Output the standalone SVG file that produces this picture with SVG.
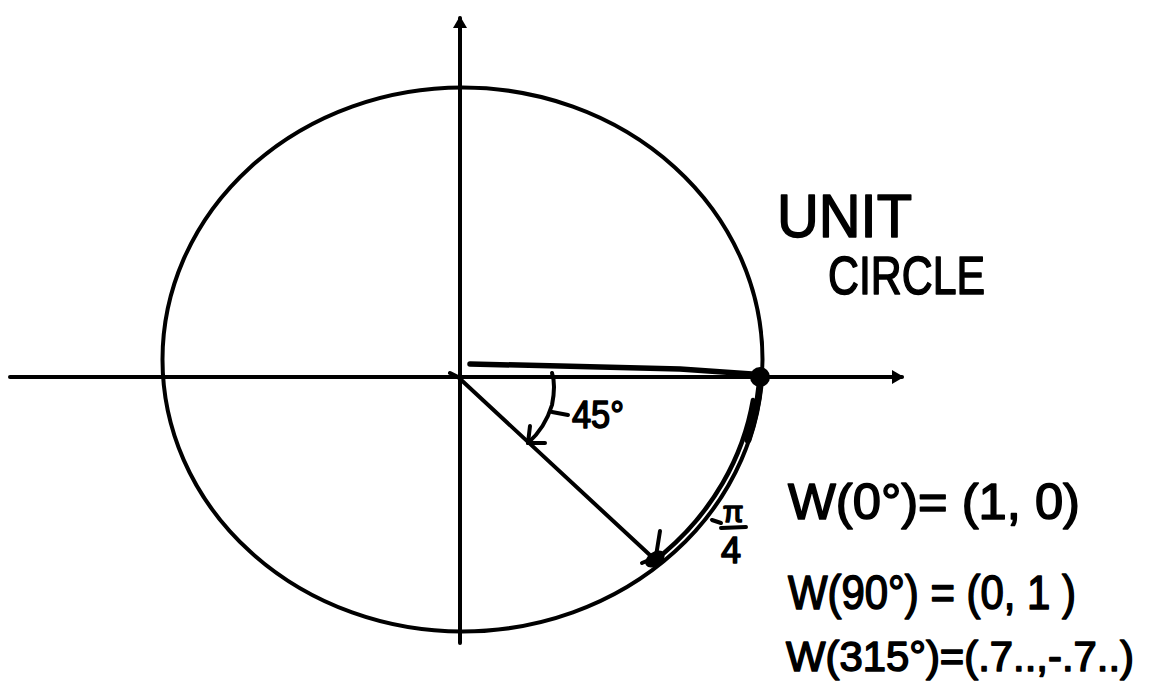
<svg xmlns="http://www.w3.org/2000/svg" width="1155" height="700" viewBox="0 0 1155 700">
  <style>
    .ln { fill: none; stroke: #000; stroke-linecap: round; stroke-linejoin: round; }
    .hw { font-family: "Liberation Sans", "DejaVu Sans", sans-serif; fill: #000; stroke: #000; stroke-width: 1.6; stroke-linejoin: round; }
  </style>
  <defs>
    <marker id="axhead" viewBox="0 0 12 14" refX="10" refY="7" markerWidth="12" markerHeight="14" markerUnits="userSpaceOnUse" orient="auto">
      <path d="M0,0 L12,7 L0,14 Z" fill="#000"/>
    </marker>
  </defs>
  <rect width="1155" height="700" fill="#fff"/>

  <g id="connectors">
    <!-- axes -->
    <line class="ln" x1="10" y1="377" x2="902" y2="377" stroke-width="4" stroke-linecap="butt" marker-end="url(#axhead)"/>
    <line class="ln" x1="460" y1="643" x2="460" y2="18" stroke-width="4" stroke-linecap="butt" marker-end="url(#axhead)"/>
    <!-- radius at 0 deg -->
    <path class="ln" d="M470,364 L560,366 L680,369 L752,374" stroke-width="5.5"/>
    <!-- radius at -45 deg -->
    <path class="ln" d="M450,373 L458,377 L652,557" stroke-width="4"/>
    <!-- arc along circle from (1,0) to 315 deg -->
    <path class="ln" d="M760,385 A300,272 0 0 1 748,440" stroke-width="7"/>
    <path class="ln" d="M753,400 A294,266 0 0 1 664,553" stroke-width="4.5"/>
    <!-- arrowhead at 315 deg point -->
    <ellipse cx="655" cy="559" rx="11" ry="7" transform="rotate(-35 655 559)" fill="#000"/>
    <line class="ln" x1="660" y1="531" x2="656" y2="556" stroke-width="4"/>
    <line class="ln" x1="642" y1="563" x2="656" y2="557" stroke-width="4"/>
    <!-- -45 deg angle arc -->
    <path class="ln" d="M552,373 Q556,385 552,405 Q545,428 528,443" stroke-width="4"/>
    <line class="ln" x1="530" y1="426" x2="528" y2="443" stroke-width="4"/>
    <line class="ln" x1="545" y1="443" x2="528" y2="443" stroke-width="4"/>
    <!-- leader lines -->
    <line class="ln" x1="552" y1="412" x2="568" y2="415" stroke-width="4"/>
    <line class="ln" x1="712" y1="520" x2="721" y2="523" stroke-width="4"/>
  </g>

  <g id="unit-circle">
    <ellipse cx="462.5" cy="359.5" rx="300" ry="272" fill="none" stroke="#000" stroke-width="4"/>
  </g>

  <g id="point-1-0">
    <circle cx="760" cy="377" r="10" fill="#000"/>
  </g>

  <g id="title">
    <text class="hw" x="777" y="237" font-size="62" textLength="135" lengthAdjust="spacingAndGlyphs">UNIT</text>
    <text class="hw" x="828" y="294" font-size="54" textLength="157" lengthAdjust="spacingAndGlyphs">CIRCLE</text>
  </g>

  <g id="angle-deg">
    <text class="hw" x="572" y="428" font-size="38" textLength="52" lengthAdjust="spacingAndGlyphs">45°</text>
  </g>

  <g id="angle-rad">
    <text class="hw" x="733" y="522" font-size="30" text-anchor="middle">π</text>
    <line class="ln" x1="721" y1="528" x2="746" y2="527" stroke-width="4"/>
    <text class="hw" x="731" y="563" font-size="36" text-anchor="middle">4</text>
  </g>

  <g id="equations">
    <text class="hw" x="788" y="519" font-size="50" textLength="292" lengthAdjust="spacingAndGlyphs">W(0°)= (1, 0)</text>
    <text class="hw" x="788" y="609" font-size="48" textLength="288" lengthAdjust="spacingAndGlyphs">W(90°) = (0, 1 )</text>
    <text class="hw" x="786" y="671" font-size="43" textLength="348" lengthAdjust="spacingAndGlyphs">W(315°)=(.7..,-.7..)</text>
  </g>
</svg>
